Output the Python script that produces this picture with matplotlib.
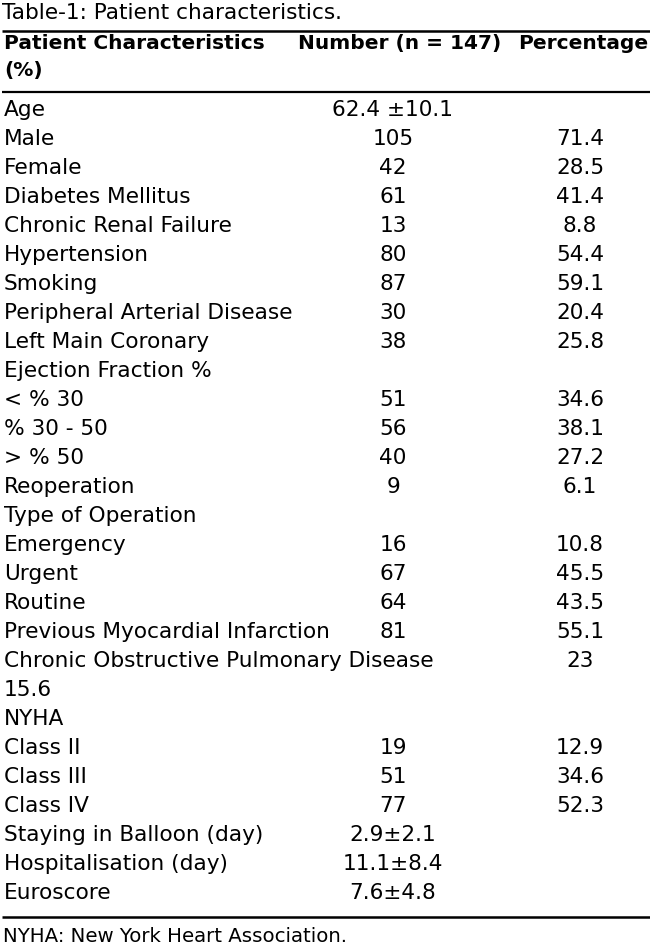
import matplotlib
matplotlib.use("Agg")
import matplotlib.pyplot as plt

title = "Table-1: Patient characteristics."
header_cols = ["Patient Characteristics", "Number (n = 147)", "Percentage"]
header_cont = "(%)"
footnote = "NYHA: New York Heart Association."

labels = ["Age", "Male", "Female", "Diabetes Mellitus", "Chronic Renal Failure",
          "Hypertension", "Smoking", "Peripheral Arterial Disease", "Left Main Coronary",
          "Ejection Fraction %", "< % 30", "% 30 - 50", "> % 50", "Reoperation",
          "Type of Operation", "Emergency", "Urgent", "Routine",
          "Previous Myocardial Infarction", "Chronic Obstructive Pulmonary Disease",
          "15.6", "NYHA", "Class II", "Class III", "Class IV",
          "Staying in Balloon (day)", "Hospitalisation (day)", "Euroscore"]
numbers = ["62.4 \u00b110.1", "105", "42", "61", "13", "80", "87", "30", "38",
           "", "51", "56", "40", "9", "", "16", "67", "64", "81", "",
           "", "", "19", "51", "77", "2.9\u00b12.1", "11.1\u00b18.4", "7.6\u00b14.8"]
percents = ["", "71.4", "28.5", "41.4", "8.8", "54.4", "59.1", "20.4", "25.8",
            "", "34.6", "38.1", "27.2", "6.1", "", "10.8", "45.5", "43.5", "55.1", "23",
            "", "", "12.9", "34.6", "52.3", "", "", ""]

W, H = 650, 951
fig = plt.figure(figsize=(W / 100, H / 100), dpi=100)
ax = fig.add_axes([0, 0, 1, 1])
ax.set_xlim(0, W)
ax.set_ylim(H, 0)
ax.axis("off")

font = "DejaVu Sans"
fs = 15.6
fst = 15.6
fsf = 14.2
fsb = 14.5
x_left, x_num, x_pct = 4, 393, 580
kw = dict(family=font, va="baseline", color="black")

ax.text(2, 19, title, fontsize=fst, ha="left", **kw)
ax.plot([2, 650], [31, 31], color="black", lw=1.8, solid_capstyle="butt")
ax.text(x_left, 49, header_cols[0], fontsize=fsb, weight="bold", ha="left", **kw)
ax.text(298, 49, header_cols[1], fontsize=fsb, weight="bold", ha="left", **kw)
ax.text(648, 49, header_cols[2], fontsize=fsb, weight="bold", ha="right", **kw)
ax.text(x_left, 76, header_cont, fontsize=fsb, weight="bold", ha="left", **kw)
ax.plot([2, 650], [91.5, 91.5], color="black", lw=1.6, solid_capstyle="butt")

y0, pitch = 116, 29
for i, (lab, n, p) in enumerate(zip(labels, numbers, percents)):
    y = y0 + i * pitch
    ax.text(x_left, y, lab, fontsize=fs, ha="left", **kw)
    if n:
        ax.text(x_num, y, n, fontsize=fs, ha="center", **kw)
    if p:
        ax.text(x_pct, y, p, fontsize=fs, ha="center", **kw)

ax.plot([2, 650], [917, 917], color="black", lw=1.8, solid_capstyle="butt")
ax.text(3, 942, footnote, fontsize=fsf, ha="left", **kw)

fig.savefig("out.png", dpi=100, facecolor="white")
